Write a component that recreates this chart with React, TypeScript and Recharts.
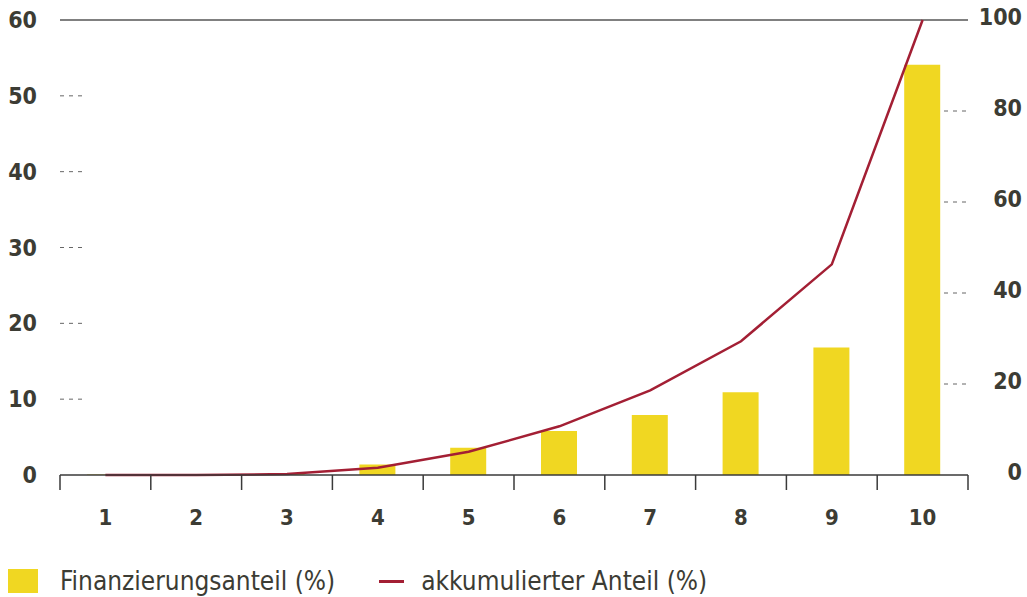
import React from 'react'
import { ComposedChart, Bar, Line, XAxis, YAxis, ReferenceLine } from 'recharts'

// ── Data ──────────────────────────────────────────────────────────────────────

const CATEGORIES = ['1', '2', '3', '4', '5', '6', '7', '8', '9', '10']
const SHARE = [0.05, 0.05, 0.1, 1.4, 3.6, 5.8, 7.9, 10.9, 16.8, 54.1]
const CUMULATIVE = [0, 0, 0.2, 1.6, 5.1, 10.7, 18.6, 29.4, 46.3, 100]
const LEFT_TICKS = [0, 10, 20, 30, 40, 50, 60]
const RIGHT_TICKS = [0, 20, 40, 60, 80, 100]

const data = CATEGORIES.map((cat, i) => ({
  cat,
  share: SHARE[i],
  cum: CUMULATIVE[i],
}))

// ── Layout / style ────────────────────────────────────────────────────────────

const W = 1027
const H = 550
const PLOT_LEFT = 60
const PLOT_RIGHT = 968
const PLOT_TOP = 20
const PLOT_BOTTOM = 475
const BAND = (PLOT_RIGHT - PLOT_LEFT) / CATEGORIES.length

const TEXT = '#3c3c34'
const BAR = '#f0d722'
const LINE = '#a31f34'
const FONT = '"DejaVu Sans Condensed", "Liberation Sans Narrow", "Open Sans", sans-serif'

function LeftTick({ y, payload }: any) {
  const v = payload.value
  return (
    <g>
      <text x={37} y={y + 8} textAnchor="end" fontSize={23} fontWeight={600} fill={TEXT} fontFamily={FONT}>
        {v}
      </text>
      {v !== 0 && v !== 60 && (
        <line x1={PLOT_LEFT} x2={PLOT_LEFT + 22} y1={y} y2={y} stroke="#666" strokeDasharray="4 5" />
      )}
    </g>
  )
}

function RightTick({ y, payload }: any) {
  const v = payload.value
  return (
    <g>
      <text x={1022} y={y + 5} textAnchor="end" fontSize={23} fontWeight={600} fill={TEXT} fontFamily={FONT}>
        {v}
      </text>
      {v !== 0 && v !== 100 && (
        <line x1={PLOT_RIGHT - 24} x2={PLOT_RIGHT} y1={y} y2={y} stroke="#666" strokeDasharray="4 5" />
      )}
    </g>
  )
}

function BottomTick({ x, payload, index }: any) {
  const left = x - BAND / 2
  return (
    <g>
      <line x1={left} x2={left} y1={PLOT_BOTTOM} y2={PLOT_BOTTOM + 15} stroke="#3a3a3a" strokeWidth={1.5} />
      {index === CATEGORIES.length - 1 && (
        <line x1={x + BAND / 2} x2={x + BAND / 2} y1={PLOT_BOTTOM} y2={PLOT_BOTTOM + 15} stroke="#3a3a3a" strokeWidth={1.5} />
      )}
      <text x={x} y={PLOT_BOTTOM + 50} textAnchor="middle" fontSize={22} fontWeight={600} fill={TEXT} fontFamily={FONT}>
        {payload.value}
      </text>
    </g>
  )
}

export default function App() {
  return (
    <div style={{ position: 'absolute', left: 0, top: 0, width: W, height: 597, background: '#fff', fontFamily: FONT }}>
      <ComposedChart
        width={W}
        height={H}
        data={data}
        margin={{ top: PLOT_TOP, right: 0, bottom: 0, left: 0 }}
        barCategoryGap={0}
      >
        <XAxis
          dataKey="cat"
          height={H - PLOT_BOTTOM}
          axisLine={{ stroke: '#3a3a3a', strokeWidth: 1.5 }}
          tickLine={false}
          tick={<BottomTick />}
          interval={0}
        />
        <YAxis
          yAxisId="left"
          domain={[0, 60]}
          ticks={LEFT_TICKS}
          width={PLOT_LEFT}
          axisLine={false}
          tickLine={false}
          tick={<LeftTick />}
          interval={0}
        />
        <YAxis
          yAxisId="right"
          orientation="right"
          domain={[0, 100]}
          ticks={RIGHT_TICKS}
          width={W - PLOT_RIGHT}
          axisLine={false}
          tickLine={false}
          tick={<RightTick />}
          interval={0}
        />
        <ReferenceLine yAxisId="left" y={60} stroke="#808080" strokeWidth={2} />
        <Bar yAxisId="left" dataKey="share" fill={BAR} barSize={36} isAnimationActive={false} />
        <Line
          yAxisId="right"
          type="linear"
          dataKey="cum"
          stroke={LINE}
          strokeWidth={2.5}
          dot={false}
          isAnimationActive={false}
        />
      </ComposedChart>

      <div style={{ position: 'absolute', left: 8, top: 566, display: 'flex', alignItems: 'center', fontSize: 26, color: TEXT }}>
        <span style={{ display: 'inline-block', width: 30, height: 24, background: BAR, marginRight: 22 }} />
        <span>Finanzierungsanteil (%)</span>
        <span style={{ display: 'inline-block', width: 25, height: 3, background: LINE, marginLeft: 44, marginRight: 17 }} />
        <span>akkumulierter Anteil (%)</span>
      </div>
    </div>
  )
}
